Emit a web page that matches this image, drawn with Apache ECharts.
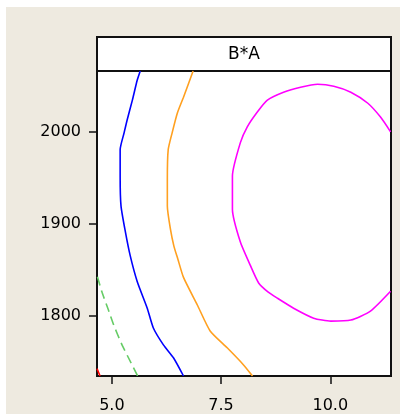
<!DOCTYPE html>
<html>
<head>
<meta charset="utf-8">
<script src="https://cdn.jsdelivr.net/npm/echarts@6/dist/echarts.min.js"></script>
<style>
  html, body { margin: 0; padding: 0; background: #ffffff; }
  #chart { position: absolute; left: 6px; top: 7px; width: 394px; height: 407px; }
</style>
</head>
<body>
<div id="chart"></div>
<script>
// panel title and axis ticks
const panelTitle = "B*A";
const xTicks = [5.0, 7.5, 10.0];
const yTicks = [1800, 1900, 2000];

// contour lines, as [A, B] pairs
const magentaLine = [
  [11.38, 2000], [11.15, 2016], [10.86, 2031], [10.47, 2043], [10.08, 2049.5],
  [9.71, 2051.6], [9.32, 2048.4], [8.93, 2043], [8.56, 2034.4], [8.33, 2021.5],
  [8.10, 2005.4], [7.94, 1988], [7.76, 1952], [7.76, 1916], [7.94, 1880.6],
  [8.17, 1855], [8.36, 1836], [8.58, 1826], [8.79, 1819.4], [9.16, 1808.6],
  [9.62, 1797.8], [10.01, 1794.6], [10.47, 1795.7], [10.92, 1805.4], [11.38, 1826.9]
];
const orangeLine = [
  [6.86, 2066], [6.64, 2037.6], [6.50, 2020.4], [6.38, 1998.9], [6.29, 1980.6],
  [6.27, 1948.4], [6.27, 1919.4], [6.34, 1894.6], [6.42, 1876], [6.51, 1862],
  [6.64, 1842], [6.96, 1811.8], [7.25, 1783.9], [7.64, 1765.6], [8.01, 1747.3],
  [8.22, 1735]
];
const blueLine = [
  [5.65, 2066], [5.58, 2055.9], [5.47, 2034.4], [5.35, 2012.9], [5.28, 1998.9],
  [5.19, 1980.6], [5.19, 1951.6], [5.21, 1919.4], [5.31, 1891.4], [5.42, 1865.6],
  [5.58, 1837.6], [5.81, 1808.6], [5.95, 1787.1], [6.18, 1768.8], [6.41, 1754.8],
  [6.64, 1735]
];
const greenLine = [
  [4.67, 1842.7], [4.77, 1826.6], [4.92, 1806.8], [5.04, 1790.6], [5.23, 1769.1],
  [5.38, 1754.8], [5.59, 1735]
];
const redLine = [
  [4.66, 1743], [4.73, 1735]
];

const chart = echarts.init(document.getElementById("chart"));

const contour = (data, color, type) => ({
  type: "line",
  data: data,
  showSymbol: false,
  smooth: 0.2,
  silent: true,
  lineStyle: { color: color, width: 1.6, type: type || "solid" },
});

const labelFont = { color: "#000000", fontFamily: "DejaVu Sans", fontSize: 16 };

chart.setOption({
  backgroundColor: "#EEEAE0",
  animation: false,
  grid: {
    left: 91,
    right: 9,
    top: 64,
    bottom: 35,
    show: true,
    backgroundColor: "#ffffff",
    borderColor: "#111111",
    borderWidth: 2,
  },
  xAxis: {
    type: "value",
    min: 4.66,
    max: 11.39,
    splitLine: { show: false },
    axisLine: { show: true, lineStyle: { color: "#111111", width: 2 } },
    axisTick: { show: true, length: 8, customValues: xTicks, lineStyle: { color: "#111111", width: 1.5 } },
    axisLabel: {
      ...labelFont,
      margin: 22,
      customValues: xTicks,
      formatter: (v) => v.toFixed(1),
    },
  },
  yAxis: {
    type: "value",
    min: 1735,
    max: 2066,
    splitLine: { show: false },
    axisLine: { show: true, lineStyle: { color: "#111111", width: 2 } },
    axisTick: { show: true, length: 8, customValues: yTicks, lineStyle: { color: "#111111", width: 1.5 } },
    axisLabel: {
      ...labelFont,
      margin: 16,
      customValues: yTicks,
      formatter: (v) => String(v),
    },
  },
  graphic: [
    {
      type: "rect",
      shape: { x: 91, y: 30, width: 294, height: 34 },
      style: { fill: "#ffffff", stroke: "#111111", lineWidth: 2 },
    },
    {
      type: "text",
      x: 238,
      y: 48,
      style: {
        text: panelTitle,
        fill: "#000000",
        font: "17px 'DejaVu Sans'",
        align: "center",
        verticalAlign: "middle",
      },
    },
  ],
  series: [
    contour(redLine, "#FF0000"),
    contour(greenLine, "#66CC66", [9, 5]),
    contour(blueLine, "#0000FF"),
    contour(orangeLine, "#FFA020"),
    contour(magentaLine, "#FF00FF"),
  ],
});
</script>
</body>
</html>
